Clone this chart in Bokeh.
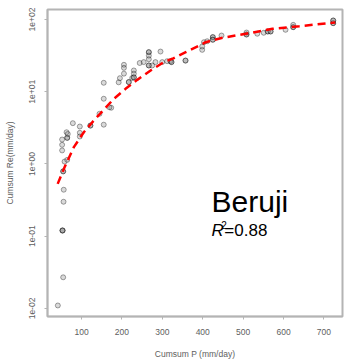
from bokeh.plotting import figure
from bokeh.models import FixedTicker, Label, Range1d
from bokeh.embed import file_html
from bokeh.resources import INLINE

obs_p = [56, 55.5, 53, 53, 53, 54.6, 41.4, 54.6, 54.6, 58, 64.6, 52, 52, 52,
         64.6, 64.6, 63, 66, 78.5, 95.8, 95.8, 95.8, 122, 122, 144.5, 155, 173.5,
         155, 155, 169, 192, 195, 205, 205, 205, 217, 217, 225.5, 229.5, 229.5,
         229.5, 229.5, 244, 254, 266.6, 266.6, 266.6, 266.6, 266.6, 266.6, 275,
         283, 295.5, 299.7, 312, 320, 322.7, 322.7, 357.4, 357.4, 398.7, 398.7,
         403, 411, 425, 425, 425, 425, 446.5, 508.4, 508.4, 508.4, 535, 551,
         561, 561, 568, 568, 605, 624, 624, 624, 723, 723, 723, 723]
obs_re = [0.44, 0.30, 0.12, 0.12, 0.12, 0.027, 0.011, 0.79, 0.79, 1.08, 1.14, 1.54, 1.84, 2.18,
          2.3, 2.3, 2.75, 2.6, 3.67, 3.3, 2.7, 2.4, 3.4, 3.4, 4.95, 3.5, 6.0,
          13.3, 8.0, 6.1, 13.5, 15.4, 23.6, 21.4, 17.8, 13.6, 13.6, 15.5, 19.7, 17.8,
          15.8, 15.8, 25.0, 25.7, 35.3, 35.3, 31.6, 28.2, 23.1, 23.1, 23.1,
          25.7, 36.0, 25.7, 26.5, 26.5, 25.7, 25.7, 27.0, 27.0, 38.0, 42.3,
          48.5, 50.0, 57.0, 57.0, 52.5, 52.5, 60.0, 62.0, 62.0, 66.0, 63.5, 65.5,
          68.2, 68.2, 68.2, 68.2, 72.0, 78.3, 78.3, 84.3, 89.0, 89.0, 96.8, 96.8]

# Fitted curve
fit_p = [41, 58, 81, 105.7, 130.5, 155, 180, 209, 238, 271, 303.7, 325, 358,
         407.6, 449, 506.7, 572.8, 638.9, 721, 728]
fit_re = [0.53, 0.90, 1.71, 2.75, 4.0, 5.62, 7.98, 10.96, 14.6, 19.7, 25.7, 28.6,
          35.3, 48.5, 55.8, 63.4, 74.3, 80.7, 89.9, 90.8]

y_tick_vals = [0.01, 0.1, 1, 10, 100]
y_tick_labels = ["1e-02", "1e-01", "1e+00", "1e+01", "1e+02"]
x_tick_vals = [100, 200, 300, 400, 500, 600, 700]

site_name = "Beruji"
r2_text = "=0.88"

FONT = "Liberation Sans"
GRAY = "#b4b4b4"
TXT = "#5e5e5e"

p = figure(width=344, height=361, y_axis_type="log",
           x_range=Range1d(15.8, 746.0), y_range=Range1d(0.00774, 137.5),
           output_backend="svg", toolbar_location=None,
           min_border_left=47, min_border_right=2, min_border_top=9,
           min_border_bottom=45)
p.background_fill_color = "white"
p.border_fill_color = "white"
p.outline_line_color = GRAY
p.outline_line_width = 2
p.xgrid.visible = False
p.ygrid.visible = False

p.scatter(obs_p, obs_re, size=5, fill_color="gray", fill_alpha=0.3,
          line_color="black", line_alpha=0.35, line_width=1)
p.line(fit_p, fit_re, line_color="red", line_width=2.5, line_dash="8 5")

for ax in (p.xaxis[0], p.yaxis[0]):
    ax.axis_line_color = GRAY
    ax.axis_line_width = 1.5
    ax.major_tick_line_color = GRAY
    ax.major_tick_in = 0
    ax.major_tick_out = 3
    ax.minor_tick_line_color = None
    ax.major_label_text_font = FONT
    ax.major_label_text_font_size = "8.5px"
    ax.major_label_text_color = TXT
    ax.axis_label_text_font = FONT
    ax.axis_label_text_font_size = "8.5px"
    ax.axis_label_text_color = TXT
    ax.axis_label_text_font_style = "normal"

p.xaxis.ticker = FixedTicker(ticks=x_tick_vals)
p.xaxis.axis_label = "Cumsum P (mm/day)"
p.xaxis.major_label_standoff = 9
p.xaxis.axis_label_standoff = 11

p.yaxis.ticker = FixedTicker(ticks=y_tick_vals)
p.yaxis.major_label_overrides = {v: l for v, l in zip(y_tick_vals, y_tick_labels)}
p.yaxis.major_label_orientation = "vertical"
p.yaxis.axis_label = "Cumsum Re(mm/day)"
p.yaxis.major_label_standoff = 9
p.yaxis.axis_label_standoff = 12

p.add_layout(Label(x=421.8, y=0.303, text=site_name, text_font=FONT,
                   text_font_size="30px", text_color="black",
                   text_baseline="alphabetic", text_align="left"))
p.add_layout(Label(x=421.8, y=0.12, text="R", text_font=FONT,
                   text_font_style="italic", text_font_size="17px",
                   text_color="black", text_baseline="alphabetic"))
p.add_layout(Label(x=446.0, y=0.141, text="2", text_font=FONT,
                   text_font_size="10px", text_color="black",
                   text_baseline="alphabetic"))
p.add_layout(Label(x=453.5, y=0.12, text=r2_text, text_font=FONT,
                   text_font_size="17px", text_color="black",
                   text_baseline="alphabetic"))

open("out.html", "w").write(file_html(p, INLINE))
